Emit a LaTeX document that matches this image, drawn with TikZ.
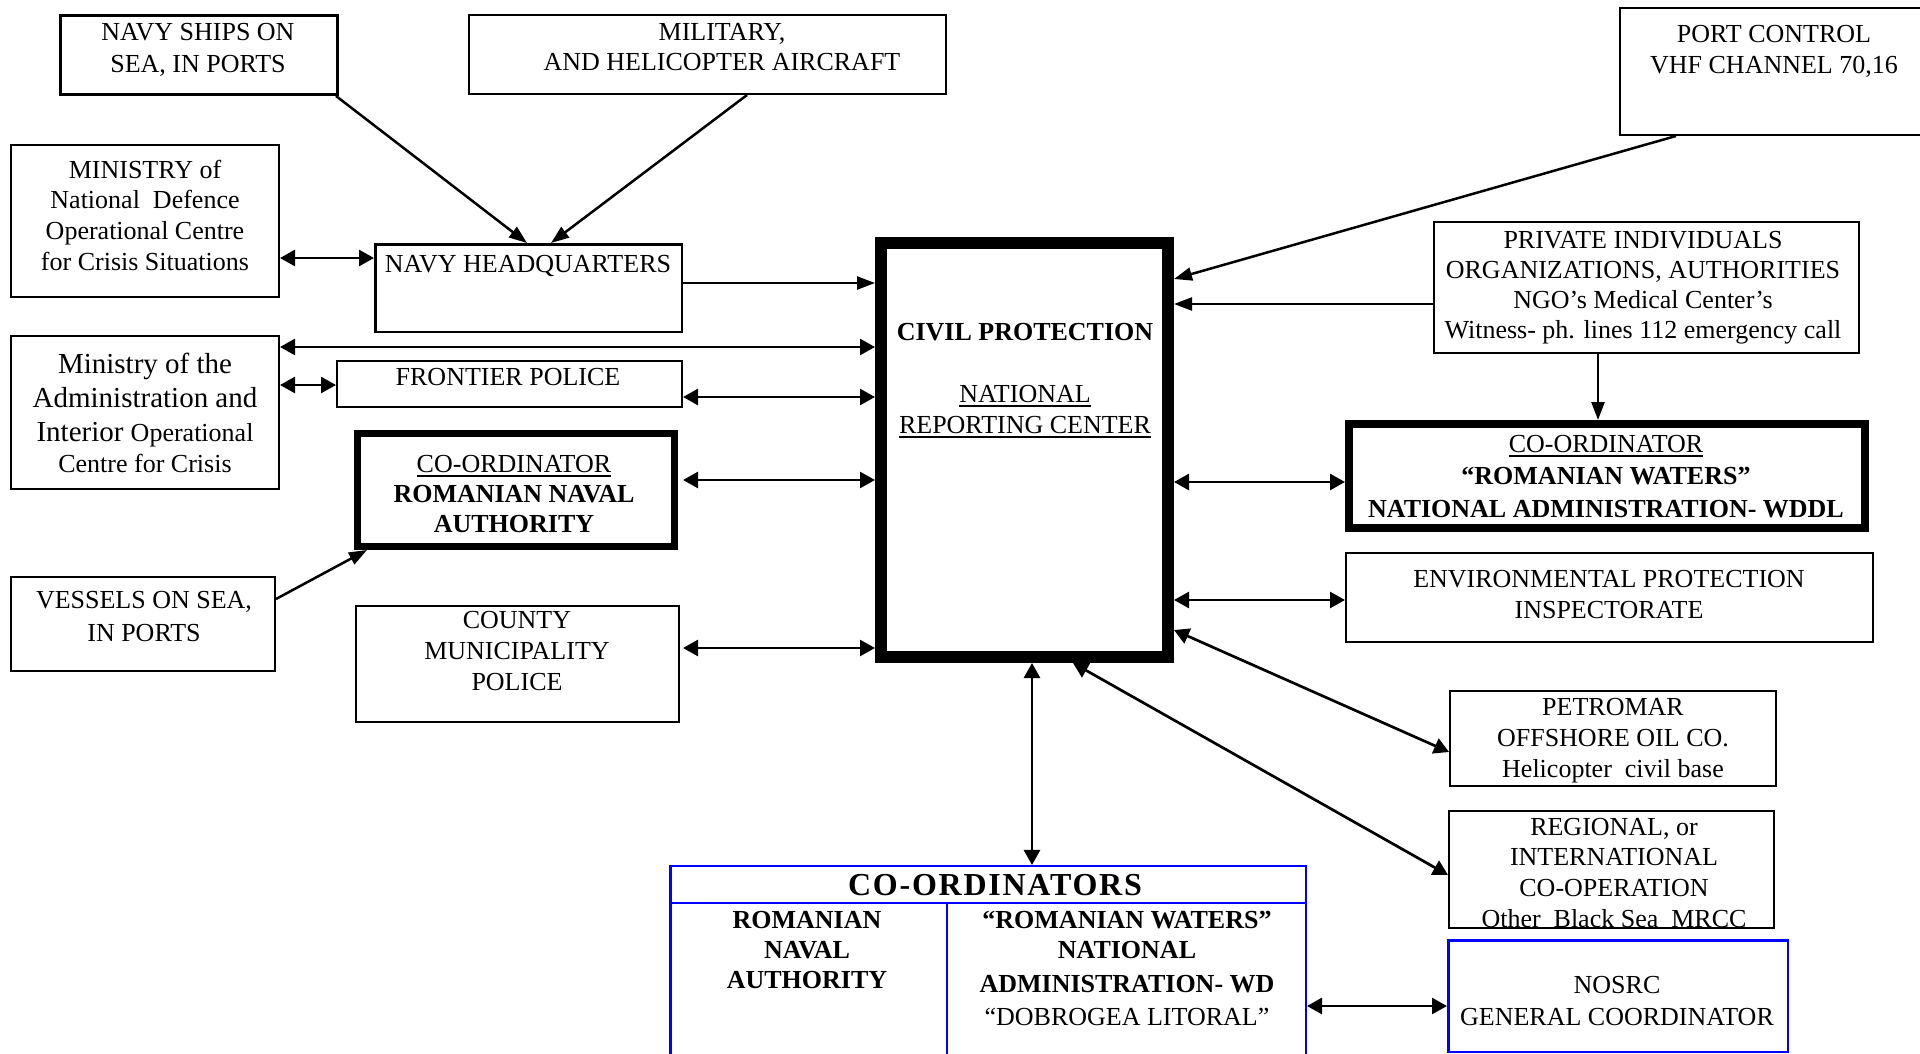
\documentclass[tikz,border=0pt]{standalone}
\usepackage{fontspec}
\setmainfont{Liberation Serif}
\usetikzlibrary{arrows.meta}
\lineskiplimit=-1000pt
\newcommand\myul[1]{\setbox0=\hbox{#1}\leavevmode\rlap{\rule[-4.5pt]{\wd0}{1.8pt}}\box0}
\newcommand\tx[5]{\node[txt, font=\fontsize{#4}{#5}\selectfont, yshift={0.7*#5pt}] (#1) at (#2) {\strut #3};}
\tikzset{
  txt/.style={inner sep=0pt, align=center, anchor=north},
  bx/.style={draw, line width=2pt, outer sep=1pt, inner sep=0pt},
  bluebx/.style={draw=blue, line width=2.5pt, outer sep=1.25pt, inner sep=0pt},
  dbl/.style={line width=2.7pt, {Triangle[length=15pt,width=16pt]}-{Triangle[length=15pt,width=16pt]}},
  sgl/.style={line width=2.5pt, -{Triangle[length=18pt,width=13pt]}}
}
\begin{document}
\begin{tikzpicture}[x=1pt,y=-1pt]
\useasboundingbox (0,0) rectangle (1920,1054);

% ---------- boxes ----------
\node[bx, line width=3pt, outer sep=1.5pt, minimum width=277pt, minimum height=79pt] (navyships) at (199,55) {};
\node[bx, minimum width=477pt, minimum height=79pt] (military) at (707.5,54.5) {};
\node[bx, minimum width=268pt, minimum height=152pt] (mnd) at (145,221) {};
\node[bx, line width=2.5pt, outer sep=1.25pt, minimum width=306.5pt, minimum height=87.5pt] (navyhq) at (528.5,288) {};
\node[bx, minimum width=268pt, minimum height=153pt] (mai) at (145,412.5) {};
\node[bx, minimum width=345pt, minimum height=46pt] (frontier) at (509.5,384) {};
\node[bx, line width=7pt, outer sep=3.5pt, minimum width=317pt, minimum height=113pt] (rna) at (516,490) {};
\node[bx, minimum width=264pt, minimum height=94pt] (vessels) at (143,624) {};
\node[bx, minimum width=323pt, minimum height=116pt] (county) at (517.5,664) {};
\node[bx, line width=12pt, outer sep=6pt, minimum width=287pt, minimum height=414pt] (civil) at (1024.5,450) {};
\node[bx, minimum width=304pt, minimum height=127pt] (port) at (1772,71.5) {};
\node[bx, minimum width=425pt, minimum height=131pt] (private) at (1646.5,287.5) {};
\node[bx, line width=8pt, outer sep=4pt, minimum width=516pt, minimum height=104pt] (wddl) at (1607,476) {};
\node[bx, minimum width=527pt, minimum height=89pt] (env) at (1609.5,597.5) {};
\node[bx, minimum width=326pt, minimum height=95pt] (petromar) at (1613,738.5) {};
\node[bx, minimum width=325pt, minimum height=117pt] (regional) at (1611.5,869.5) {};
\node[bluebx, minimum width=339.5pt, minimum height=111.5pt] (nosrc) at (1618,996) {};
\node[bluebx, minimum width=635.5pt, minimum height=203.75pt] (coord) at (988,968.1) {};
\draw[blue, line width=2.5pt] (coord.west |- 0,903) -- (coord.east |- 0,903);
\draw[blue, line width=2.5pt] (947,903) -- (947,1075);

% ---------- texts ----------
\tx{navyshipsT}{198,40}{NAVY SHIPS ON\\SEA, IN PORTS}{26}{32}
\tx{militaryT}{722,40}{MILITARY,\\AND HELICOPTER AIRCRAFT}{26}{30}
\tx{mndT}{145,178}{MINISTRY of\\National~~Defence\\Operational Centre\\for Crisis Situations}{26}{30.7}
\tx{navyhqT}{528,272}{NAVY HEADQUARTERS}{26}{31}
\tx{maiT}{145,373}{Ministry of the\\Administration and\\Interior {\fontsize{26}{34}\selectfont Operational}\\[-3pt]{\fontsize{26}{31}\selectfont Centre for Crisis}}{29}{34}
\tx{frontierT}{508,385}{FRONTIER POLICE}{26}{31}
\tx{rnaT}{514,472}{\myul{CO-ORDINATOR}\\\textbf{ROMANIAN NAVAL}\\\textbf{AUTHORITY}}{26}{30}
\tx{vesselsT}{144,608}{VESSELS ON SEA,\\IN PORTS}{26}{33.5}
\tx{countyT}{517,628}{COUNTY\\MUNICIPALITY\\POLICE}{26}{31}
\tx{civilT}{1025,340}{\textbf{CIVIL PROTECTION}\\ \\\myul{NATIONAL}\\\myul{REPORTING CENTER}}{26}{31}
\tx{portT}{1774,42}{PORT CONTROL\\VHF CHANNEL 70,16}{26}{31}
\tx{privateT}{1643,248}{PRIVATE INDIVIDUALS\\ORGANIZATIONS, AUTHORITIES\\NGO’s Medical Center’s\\Witness- ph. lines 112 emergency call}{26}{30}
\tx{wddlT}{1606,452}{\myul{CO-ORDINATOR}\\\textbf{“ROMANIAN WATERS”}\\\textbf{NATIONAL ADMINISTRATION- WDDL}}{26}{32.5}
\tx{envT}{1609,587}{ENVIRONMENTAL PROTECTION\\INSPECTORATE}{26}{31}
\tx{petromarT}{1613,715}{PETROMAR\\OFFSHORE OIL CO.\\Helicopter~~civil base}{26}{31}
\tx{regionalT}{1614,835}{REGIONAL, or\\INTERNATIONAL\\CO-OPERATION\\Other~~Black Sea~~MRCC}{26}{30.7}
\tx{nosrcT}{1617,993}{NOSRC\\GENERAL COORDINATOR}{26}{32}
\tx{coordT}{995,895}{\bfseries\addfontfeature{LetterSpace=5.5}CO-ORDINATORS}{32}{34}
\tx{coordrnaT}{807,928}{\textbf{ROMANIAN}\\\textbf{NAVAL}\\\textbf{AUTHORITY}}{26}{30}
\tx{coordrwT}{1127,928}{\textbf{“ROMANIAN WATERS”}\\\textbf{NATIONAL}\\[4pt]\textbf{ADMINISTRATION- WD}\\[3pt]“DOBROGEA LITORAL”}{26}{30}

% ---------- connectors ----------
\draw[sgl] (336,0 |- navyships.south) -- (527,0 |- navyhq.north);
\draw[sgl] (747,0 |- military.south) -- (551,0 |- navyhq.north);
\draw[dbl] (mnd.east |- 0,258) -- (navyhq.west |- 0,258);
\draw[sgl] (navyhq.east |- 0,283) -- (civil.west |- 0,283);
\draw[dbl] (mai.east |- 0,347) -- (civil.west |- 0,347);
\draw[dbl] (mai.east |- 0,385) -- (frontier.west |- 0,385);
\draw[dbl] (frontier.east |- 0,397) -- (civil.west |- 0,397);
\draw[dbl] ([xshift=5pt]rna.east |- 0,480) -- (civil.west |- 0,480);
\draw[sgl] (vessels.east |- 0,599) -- (367,0 |- rna.south);
\draw[dbl] ([xshift=3pt]county.east |- 0,648) -- (civil.west |- 0,648);
\draw[sgl] (1676,0 |- port.south) -- (civil.east |- 0,279);
\draw[sgl] (private.west |- 0,304) -- (civil.east |- 0,304);
\draw[sgl] (1598,0 |- private.south) -- (1598,0 |- wddl.north);
\draw[dbl] (civil.east |- 0,482) -- (wddl.west |- 0,482);
\draw[dbl] (civil.east |- 0,600) -- (env.west |- 0,600);
\draw[dbl] (civil.east |- 0,630) -- (petromar.west |- 0,752);
\draw[dbl] (1073,0 |- civil.south) -- (regional.west |- 0,875);
\draw[dbl] (1032,0 |- civil.south) -- (1032,0 |- coord.north);
\draw[dbl] (coord.east |- 0,1006) -- (nosrc.west |- 0,1006);
\end{tikzpicture}
\end{document}
